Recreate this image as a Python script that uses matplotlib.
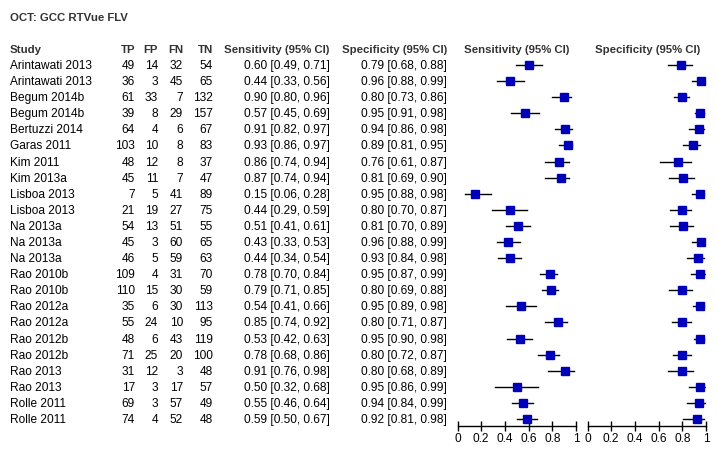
import matplotlib.pyplot as plt

plt.rcParams['font.family'] = ['Liberation Sans', 'DejaVu Sans']

studies = ['Arintawati 2013', 'Arintawati 2013', 'Begum 2014b', 'Begum 2014b', 'Bertuzzi 2014',
           'Garas 2011', 'Kim 2011', 'Kim 2013a', 'Lisboa 2013', 'Lisboa 2013',
           'Na 2013a', 'Na 2013a', 'Na 2013a', 'Rao 2010b', 'Rao 2010b',
           'Rao 2012a', 'Rao 2012a', 'Rao 2012b', 'Rao 2012b', 'Rao 2013',
           'Rao 2013', 'Rolle 2011', 'Rolle 2011']
tp = [49, 36, 61, 39, 64, 103, 48, 45, 7, 21, 54, 45, 46, 109, 110, 35, 55, 48, 71, 31, 17, 69, 74]
fp = [14, 3, 33, 8, 4, 10, 12, 11, 5, 19, 13, 3, 5, 4, 15, 6, 24, 6, 25, 12, 3, 3, 4]
fn = [32, 45, 7, 29, 6, 8, 8, 7, 41, 27, 51, 60, 59, 31, 30, 30, 10, 43, 20, 3, 17, 57, 52]
tn = [54, 65, 132, 157, 67, 83, 37, 47, 89, 75, 55, 65, 63, 70, 59, 113, 95, 119, 100, 48, 57, 49, 48]
sens = [0.60, 0.44, 0.90, 0.57, 0.91, 0.93, 0.86, 0.87, 0.15, 0.44, 0.51, 0.43, 0.44,
        0.78, 0.79, 0.54, 0.85, 0.53, 0.78, 0.91, 0.50, 0.55, 0.59]
sens_lo = [0.49, 0.33, 0.80, 0.45, 0.82, 0.86, 0.74, 0.74, 0.06, 0.29, 0.41, 0.33, 0.34,
           0.70, 0.71, 0.41, 0.74, 0.42, 0.68, 0.76, 0.32, 0.46, 0.50]
sens_hi = [0.71, 0.56, 0.96, 0.69, 0.97, 0.97, 0.94, 0.94, 0.28, 0.59, 0.61, 0.53, 0.54,
           0.84, 0.85, 0.66, 0.92, 0.63, 0.86, 0.98, 0.68, 0.64, 0.67]
spec = [0.79, 0.96, 0.80, 0.95, 0.94, 0.89, 0.76, 0.81, 0.95, 0.80, 0.81, 0.96, 0.93,
        0.95, 0.80, 0.95, 0.80, 0.95, 0.80, 0.80, 0.95, 0.94, 0.92]
spec_lo = [0.68, 0.88, 0.73, 0.91, 0.86, 0.81, 0.61, 0.69, 0.88, 0.70, 0.70, 0.88, 0.84,
           0.87, 0.69, 0.89, 0.71, 0.90, 0.72, 0.68, 0.86, 0.84, 0.81]
spec_hi = [0.88, 0.99, 0.86, 0.98, 0.98, 0.95, 0.87, 0.90, 0.98, 0.87, 0.89, 0.99, 0.98,
           0.99, 0.88, 0.98, 0.87, 0.98, 0.87, 0.89, 0.99, 0.99, 0.98]
ticks = [0, 0.2, 0.4, 0.6, 0.8, 1]
tick_labels = ['0', '0.2', '0.4', '0.6', '0.8', '1']

W, H = 717, 452
fig = plt.figure(figsize=(W / 100, H / 100), dpi=100)
fig.patch.set_facecolor('white')

# table drawn in pixel coordinates
tab = fig.add_axes([0, 0, 1, 1])
tab.set_xlim(0, W)
tab.set_ylim(H, 0)
tab.axis('off')

fs = 8.6
hfs = 8.2
row0, dy = 66, 16.09
head_col = '#333333'
tab.text(10, 18, 'OCT: GCC RTVue FLV', fontsize=hfs, fontweight='bold', color=head_col, va='center')
tab.text(10, 50, 'Study', fontsize=hfs, fontweight='bold', color=head_col, va='center')
for x, lab in [(135, 'TP'), (158, 'FP'), (183, 'FN'), (213, 'TN'),
               (330, 'Sensitivity (95% CI)'), (447, 'Specificity (95% CI)')]:
    tab.text(x, 50, lab, fontsize=hfs, fontweight='bold', color=head_col, va='center', ha='right')
tab.text(517, 50, 'Sensitivity (95% CI)', fontsize=hfs, fontweight='bold', color=head_col, va='center', ha='center')
tab.text(648, 50, 'Specificity (95% CI)', fontsize=hfs, fontweight='bold', color=head_col, va='center', ha='center')

for i, s in enumerate(studies):
    y = row0 + i * dy
    tab.text(10, y, s, fontsize=fs, va='center')
    for x, v in [(135, tp[i]), (158, fp[i]), (183, fn[i]), (213, tn[i])]:
        tab.text(x, y, str(v), fontsize=fs, va='center', ha='right')
    tab.text(330, y, f'{sens[i]:.2f} [{sens_lo[i]:.2f}, {sens_hi[i]:.2f}]', fontsize=fs, va='center', ha='right')
    tab.text(447, y, f'{spec[i]:.2f} [{spec_lo[i]:.2f}, {spec_hi[i]:.2f}]', fontsize=fs, va='center', ha='right')

# forest panels
n = len(studies)
top_px, bot_px = 58, 427
y_top = (top_px - row0) / dy
y_bot = (bot_px - row0) / dy
for x0, x1, est, lo, hi in [(457.5, 576, sens, sens_lo, sens_hi), (587.5, 706, spec, spec_lo, spec_hi)]:
    ax = fig.add_axes([x0 / W, 1 - bot_px / H, (x1 - x0) / W, (bot_px - top_px) / H])
    ax.patch.set_alpha(0)
    ax.set_xlim(0, 1)
    ax.set_ylim(y_bot, y_top)
    for i in range(n):
        ax.plot([lo[i], hi[i]], [i, i], color='black', lw=1)
    ax.plot(est, range(n), 's', color='#0000BB', markersize=6, linestyle='none')
    for sp in ['top', 'left', 'right']:
        ax.spines[sp].set_visible(False)
    ax.spines['bottom'].set_linewidth(1)
    ax.set_yticks([])
    ax.set_xticks(ticks)
    ax.set_xticklabels(tick_labels, fontsize=fs)
    ax.tick_params(axis='x', direction='inout', length=7, width=1, pad=1)

fig.savefig('out.png', dpi=100)
